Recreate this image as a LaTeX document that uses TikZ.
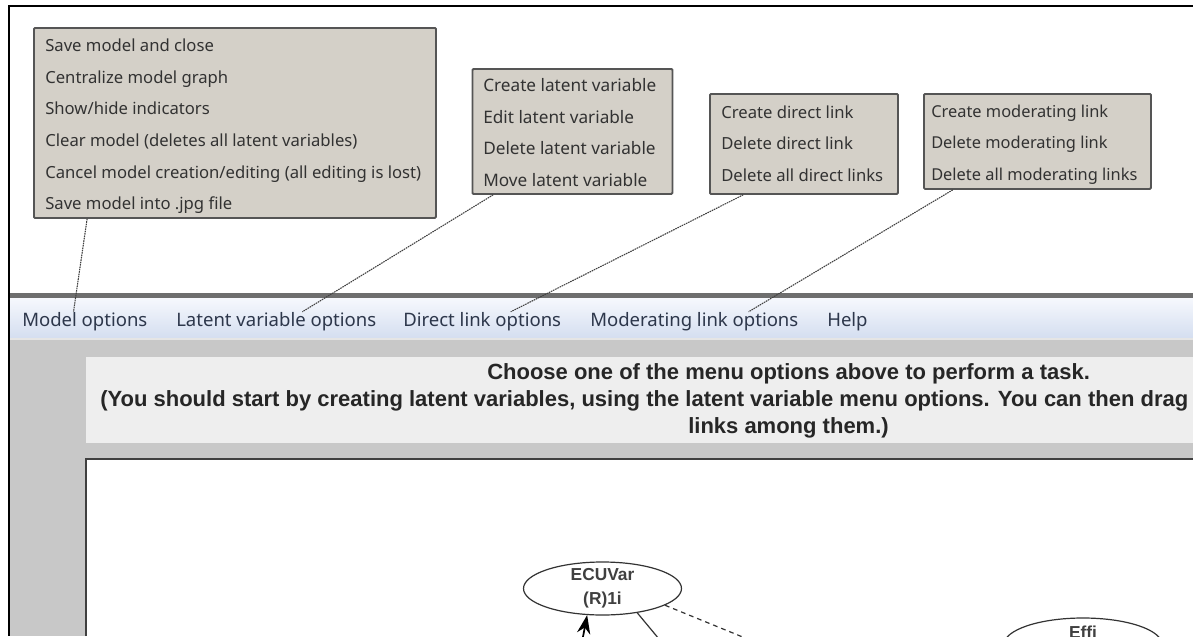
\documentclass[tikz,border=0pt]{standalone}
\usepackage{fontspec}
\setmainfont{Noto Sans}
\newfontfamily\boldui{Liberation Sans}[BoldFont={Liberation Sans Bold}]
\usetikzlibrary{shapes.geometric,arrows.meta,calc}
\definecolor{menufill}{RGB}{212,208,200}
\definecolor{menuedge}{RGB}{85,85,85}
\definecolor{menutext}{RGB}{50,50,50}
\definecolor{panel}{RGB}{200,200,200}
\definecolor{banner}{RGB}{238,238,238}
\definecolor{barline}{RGB}{110,110,110}
\definecolor{bartop}{RGB}{246,248,253}
\definecolor{barbot}{RGB}{212,222,240}
\definecolor{bartext}{RGB}{45,55,75}
\tikzset{
  menubox/.style={draw=menuedge,line width=1.4pt,fill=menufill,rounded corners=0.8pt,anchor=north west,inner sep=0pt},
  menuline/.style={font=\fontsize{12.5}{13}\selectfont,text=menutext,anchor=west,inner sep=0pt,text height=0.75em,text depth=0.25em,yshift=-2.2pt},
  barlabel/.style={font=\fontsize{13.9}{14}\selectfont,text=bartext,anchor=west,inner sep=0pt,text height=0.75em,text depth=0.25em,yshift=-2.8pt},
  tiedot/.style={draw=black!75,line width=0.8pt,dash pattern=on 1.2pt off 0.6pt},
  notice/.style={font=\boldui\bfseries\fontsize{16.5}{17}\selectfont,text=black!85,inner sep=0pt,text height=0.75em,text depth=0.25em,yshift=-2.8pt},
  lv/.style={draw=black!80,line width=0.9pt,ellipse,fill=white,inner sep=0pt,minimum width=118.5pt,minimum height=39.75pt},
  lvtext/.style={font=\boldui\bfseries\fontsize{13}{13}\selectfont,text=black!75,inner sep=0pt,text height=0.75em,text depth=0.25em,yshift=-2.2pt}
}
\begin{document}
\begin{tikzpicture}[x=0.75pt,y=-0.75pt]
\useasboundingbox (0,0) rectangle (1193,636);
\clip (0,0) rectangle (1193,636);
\fill[white] (0,0) rectangle (1193,636);
% lower panel
\fill[panel] (9,338) rectangle (1193,636);
\fill[banner] (86,357) rectangle (1193,443);
\fill[white] (87,459) rectangle (1193,636);
\draw[black!75,line width=1pt] (86,636) -- (86,459) -- (1193,459);
% menu bar
\shade[top color=bartop,bottom color=barbot] (9,298) rectangle (1193,338);
\fill[barline] (9,293) rectangle (1193,298);
\draw[black!10,line width=1pt] (9,339) -- (1193,339);
% frame
\draw[black,line width=1.5pt] (1193,6) -- (9,6) -- (9,636);
% menu boxes
\node[menubox,minimum width=301.5pt,minimum height=142.5pt] (mbox) at (33,27) {};
\node[menubox,minimum width=150pt,minimum height=93.75pt] (lbox) at (471.5,68) {};
\node[menubox,minimum width=141pt,minimum height=75pt] (dbox) at (709,93) {};
\node[menubox,minimum width=170.25pt,minimum height=71.25pt] (obox) at (923,93) {};
% model menu
\node[menuline] (m1) at (45,45) {Save model and close};
\node[menuline] (m2) at (45,77) {Centralize model graph};
\node[menuline] (m3) at (45,108) {Show/hide indicators};
\node[menuline] (m4) at (45,140) {Clear model (deletes all latent variables)};
\node[menuline] (m5) at (45,172) {Cancel model creation/editing (all editing is lost)};
\node[menuline] (m6) at (45,203) {Save model into .jpg file};
% latent menu
\node[menuline,font=\fontsize{12.9}{13}\selectfont] (l1) at (483,85) {Create latent variable};
\node[menuline,font=\fontsize{12.9}{13}\selectfont] (l2) at (483,117) {Edit latent variable};
\node[menuline,font=\fontsize{12.9}{13}\selectfont] (l3) at (483,148) {Delete latent variable};
\node[menuline,font=\fontsize{12.9}{13}\selectfont] (l4) at (483,180) {Move latent variable};
% direct menu
\node[menuline] (d1) at (721,112) {Create direct link};
\node[menuline] (d2) at (721,143) {Delete direct link};
\node[menuline] (d3) at (721,175) {Delete all direct links};
% moderating menu
\node[menuline,font=\fontsize{12.3}{13}\selectfont] (o1) at (931,111) {Create moderating link};
\node[menuline,font=\fontsize{12.3}{13}\selectfont] (o2) at (931,142) {Delete moderating link};
\node[menuline,font=\fontsize{12.3}{13}\selectfont] (o3) at (931,174) {Delete all moderating links};
% menu bar labels
\node[barlabel] (bm) at (22,319) {Model options};
\node[barlabel] (bl) at (176,319) {Latent variable options};
\node[barlabel] (bd) at (403,319) {Direct link options};
\node[barlabel] (bo) at (590,319) {Moderating link options};
\node[barlabel] (bh) at (827,319) {Help};
% notice
\node[notice,anchor=west] (n1) at (487,372) {Choose one of the menu options above to perform a task.};
\node[notice,anchor=west] (n2) at (100,399) {(You should start by creating latent variables, using the latent variable menu options. You can then drag};
\node[notice,anchor=west] (n3) at (688,426) {links among them.)};
% ties
\draw[tiedot] ($(mbox.south west)!0.134!(mbox.south east)$) -- ($(bm.north west)!0.41!(bm.north east)+(0,-4)$);
\draw[tiedot] ($(lbox.south west)!0.107!(lbox.south east)$) -- ($(bl.north west)!0.63!(bl.north east)+(0,-4)$);
\draw[tiedot] ($(dbox.south west)!0.18!(dbox.south east)$) -- ($(bd.north west)!0.68!(bd.north east)+(0,-4)$);
\draw[tiedot] ($(obox.south west)!0.13!(obox.south east)$) -- ($(bo.north west)!0.76!(bo.north east)+(0,-4)$);
% model graph
\node[lv] (ecu) at (602.5,588.5) {};
\node[lvtext] (ecu1) at (602.5,574) {ECUVar};
\node[lvtext] (ecu2) at (602.5,598) {(R)1i};
\node[lv] (effi) at (1083,644.5) {};
\node[lvtext] (effi1) at (1083,632) {Effi};
\coordinate (arrowfree) at (582,642);
\coordinate (solidfree) at (659,639);
\coordinate (dashfree) at (750,640);
\draw[black,line width=1.3pt,-{Stealth[length=14pt,width=10pt]}] (arrowfree) -- (ecu.-120);
\draw[black!80,line width=0.9pt] (ecu.-35) -- (solidfree);
\draw[black!80,line width=0.9pt,dash pattern=on 3.5pt off 3pt] (ecu.-15.6) -- (dashfree);
\end{tikzpicture}
\end{document}
